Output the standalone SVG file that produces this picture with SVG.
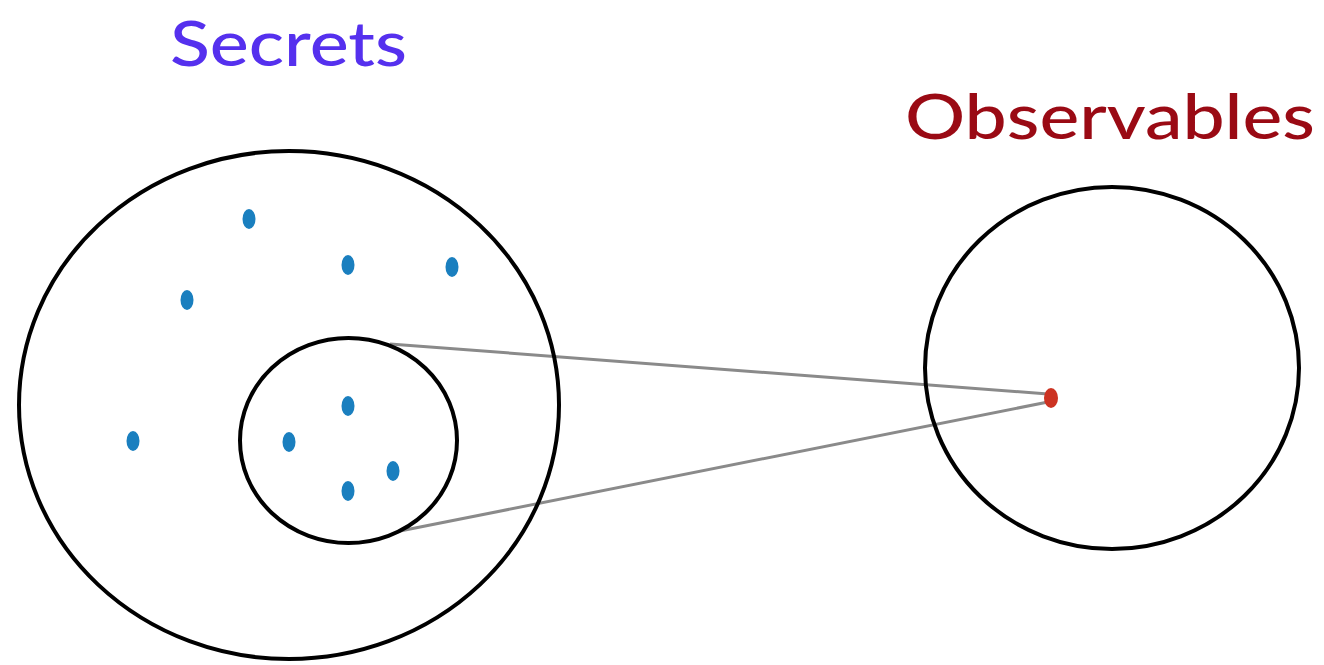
<svg xmlns="http://www.w3.org/2000/svg" width="1324" height="665" viewBox="0 0 1324 665">
<style>
.ring{fill:none;stroke:#000;stroke-width:4}
.dot{fill:#1a7fbf}
.conn{stroke:#8a8a8a;stroke-width:3;fill:none}
.lbl{font-family:Lato,"Open Sans","Liberation Sans",sans-serif;font-size:62px;font-weight:500}
</style>
<rect width="1324" height="665" fill="#fff"/>
<g id="connectors">
<line class="conn" x1="390" y1="344" x2="1048" y2="394"/>
<line class="conn" x1="400" y1="531" x2="1048" y2="402"/>
</g>
<g id="secrets">
<ellipse class="ring" cx="289" cy="405" rx="270" ry="254"/>
<text class="lbl" x="170" y="66" fill="#5530ee" textLength="237" lengthAdjust="spacingAndGlyphs">Secrets</text>
<ellipse class="dot" cx="249" cy="219" rx="6.5" ry="10"/>
<ellipse class="dot" cx="348" cy="265" rx="6.5" ry="10"/>
<ellipse class="dot" cx="452" cy="267" rx="6.5" ry="10"/>
<ellipse class="dot" cx="187" cy="300" rx="6.5" ry="10"/>
<ellipse class="dot" cx="133" cy="441" rx="6.5" ry="10"/>
</g>
<g id="subset">
<ellipse class="ring" cx="348.5" cy="440.5" rx="108.5" ry="102.5"/>
<ellipse class="dot" cx="348" cy="406" rx="6.5" ry="10"/>
<ellipse class="dot" cx="289" cy="442" rx="6.5" ry="10"/>
<ellipse class="dot" cx="393" cy="471" rx="6.5" ry="10"/>
<ellipse class="dot" cx="348" cy="491" rx="6.5" ry="10"/>
</g>
<g id="observables">
<ellipse class="ring" cx="1112" cy="368" rx="187" ry="181"/>
<text class="lbl" x="905" y="139" fill="#9a0a14" textLength="410" lengthAdjust="spacingAndGlyphs">Observables</text>
<ellipse cx="1051" cy="398" rx="7" ry="10" fill="#cc3322"/>
</g>
</svg>
